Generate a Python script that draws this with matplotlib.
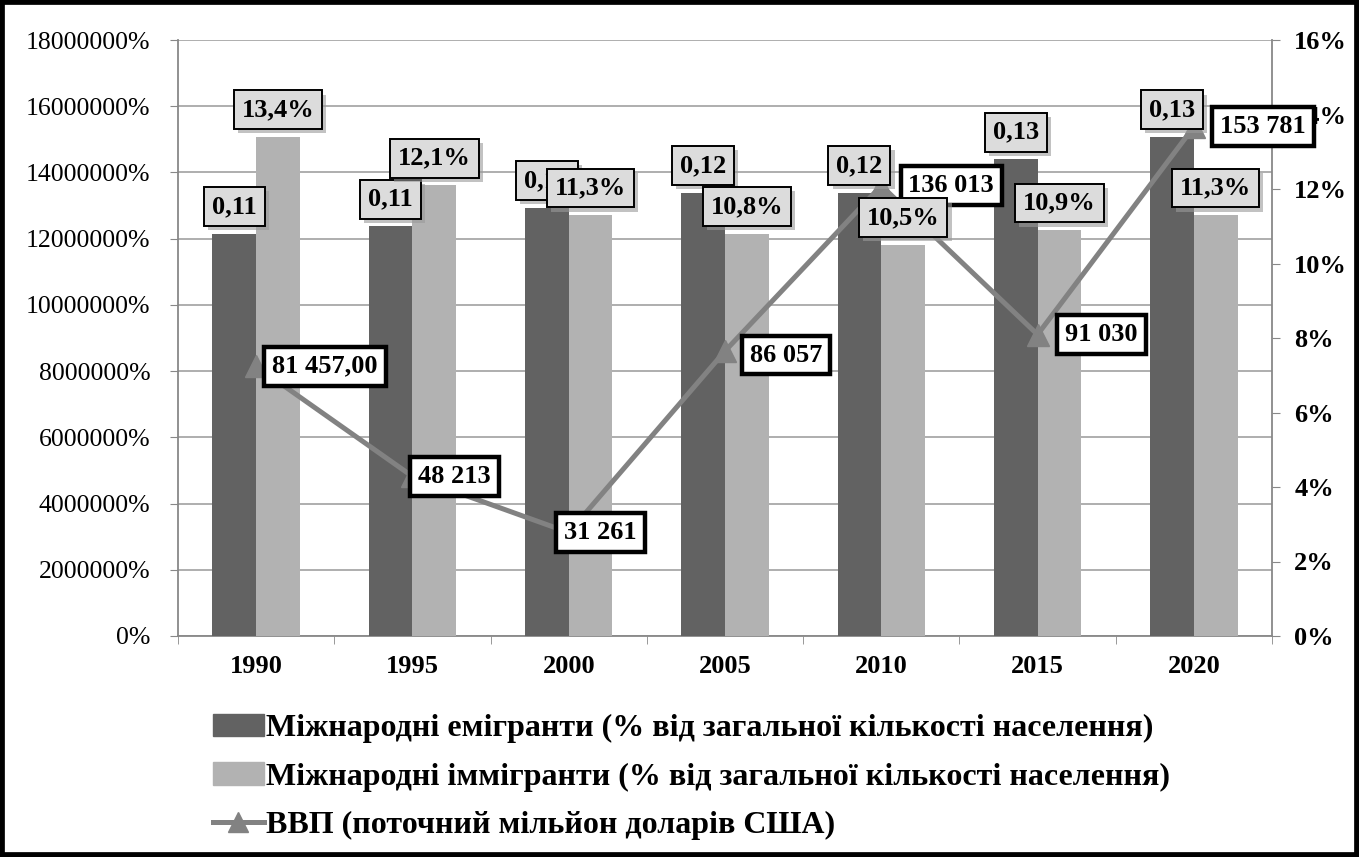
import matplotlib
matplotlib.use("Agg")
from matplotlib import pyplot as plt
from matplotlib import patheffects as pe
from matplotlib.patches import Patch, Rectangle
from matplotlib.lines import Line2D
from matplotlib.ticker import FuncFormatter, MultipleLocator, FixedLocator
import numpy as np

# data
years = ["1990", "1995", "2000", "2005", "2010", "2015", "2020"]
emigrants = [0.108, 0.110, 0.115, 0.119, 0.119, 0.128, 0.134]
immigrants = [0.134, 0.121, 0.113, 0.108, 0.105, 0.109, 0.113]
gdp = [81457, 48213, 31261, 86057, 136013, 91030, 153781]

emig_labels = ["0,11", "0,11", "0,12", "0,12", "0,12", "0,13", "0,13"]
immig_labels = ["13,4%", "12,1%", "11,3%", "10,8%", "10,5%", "10,9%", "11,3%"]
gdp_labels = ["81 457,00", "48 213", "31 261", "86 057", "136 013", "91 030", "153 781"]

series_names = ["Міжнародні емігранти (% від загальної кількості населення)",
                "Міжнародні іммігранти (% від загальної кількості населення)",
                "ВВП (поточний мільйон доларів США)"]

# label placement (pixels from the point)
gdp_dx = [69, 42, 32, 61, 70, 64, 69]
gdp_dy = [0, 0, 0, -4, 0, 0, 0]

dark = "#626262"
light = "#b2b2b2"
line_col = "#828282"
axis_col = "#888888"

plt.rcParams['font.family'] = ['Liberation Serif', 'DejaVu Serif']

fig = plt.figure(figsize=(13.59, 8.57), dpi=100)
rect = [178 / 1359, 1 - 636 / 857, (1272 - 178) / 1359, (636 - 40) / 857]
ax = fig.add_axes(rect)
ax2 = ax.twinx()
ax3 = ax.twinx()

x = np.arange(len(years))
w = 0.28

# left axis: gdp scale with the grid
ax.set_xlim(-0.5, len(years) - 0.5)
ax.set_ylim(0, 180000)
ax.yaxis.set_major_locator(MultipleLocator(20000))
ax.yaxis.set_major_formatter(FuncFormatter(lambda v, p: f"{v * 100:.0f}%"))
ax.grid(axis='y', color="#a8a8a8", linewidth=1.3)
ax.set_axisbelow(True)
ax.tick_params(axis='y', direction='out', length=6, color=axis_col, pad=14, labelsize=18.5)
ax.set_xticks(x)
ax.set_xticklabels(years, fontweight='bold', fontsize=19)
ax.xaxis.set_minor_locator(FixedLocator(np.arange(-0.5, len(years), 1.0)))
ax.tick_params(axis='x', which='major', length=0, pad=14)
ax.tick_params(axis='x', which='minor', length=6, color=axis_col, direction='out')
for s in ['left', 'right', 'bottom']:
    ax.spines[s].set_color(axis_col)
    ax.spines[s].set_linewidth(1.3)
ax.spines['top'].set_visible(False)

# right axis: bars
ax2.bar(x - w / 2, emigrants, w, color=dark, zorder=2)
ax2.bar(x + w / 2, immigrants, w, color=light, zorder=2)
ax2.set_ylim(0, 0.16)
ax2.yaxis.set_major_locator(MultipleLocator(0.02))
ax2.yaxis.set_major_formatter(FuncFormatter(lambda v, p: f"{v * 100:.0f}%"))
ax2.tick_params(axis='y', direction='out', length=6, color=axis_col, pad=10, labelsize=19)
for t in ax2.get_yticklabels():
    t.set_fontweight('bold')
for s in ax2.spines.values():
    s.set_visible(False)

# top axis: line with labels
ax3.set_ylim(ax.get_ylim())
ax3.axis('off')
ax3.plot(x, gdp, color=line_col, linewidth=3.6, marker='^', markersize=16,
         markeredgecolor=line_col, markerfacecolor=line_col, zorder=3)

for i in range(len(years)):
    ax3.annotate(gdp_labels[i], xy=(x[i], gdp[i]), xytext=(gdp_dx[i], gdp_dy[i]),
                 textcoords='offset pixels', ha='center', va='center',
                 fontsize=19, fontweight='bold', zorder=5,
                 bbox=dict(boxstyle='square,pad=0.3', fc='white', ec='black', lw=3.2))

shadow = [pe.SimplePatchShadow(offset=(3, -3), shadow_rgbFace='#9a9a9a', alpha=0.6), pe.Normal()]
for i in range(len(years)):
    for xs, v, lab in [(x[i] - w / 2, emigrants[i], emig_labels[i]),
                       (x[i] + w / 2, immigrants[i], immig_labels[i])]:
        t = ax3.annotate(lab, xy=(xs, v), xycoords=ax2.transData,
                         xytext=(0, 27), textcoords='offset pixels', ha='center', va='center',
                         fontsize=19, fontweight='bold', zorder=6,
                         bbox=dict(boxstyle='square,pad=0.3', fc='#dcdcdc', ec='black', lw=1.4))
        t.get_bbox_patch().set_path_effects(shadow)

handles = [Patch(color=dark), Patch(color=light),
           Line2D([0], [0], color=line_col, linewidth=3.6, marker='^', markersize=14)]
fig.legend(handles, series_names, loc='upper left', bbox_to_anchor=(200 / 1359, 1 - 701 / 857),
           frameon=False, prop=dict(size=23, weight='bold'), handlelength=1.6,
           handletextpad=0.08, labelspacing=0.6, borderaxespad=0)

fig.patches.append(Rectangle((0, 0), 1, 1, transform=fig.transFigure, fill=False,
                             lw=7, ec='black'))

fig.savefig("out.png", dpi=100)
